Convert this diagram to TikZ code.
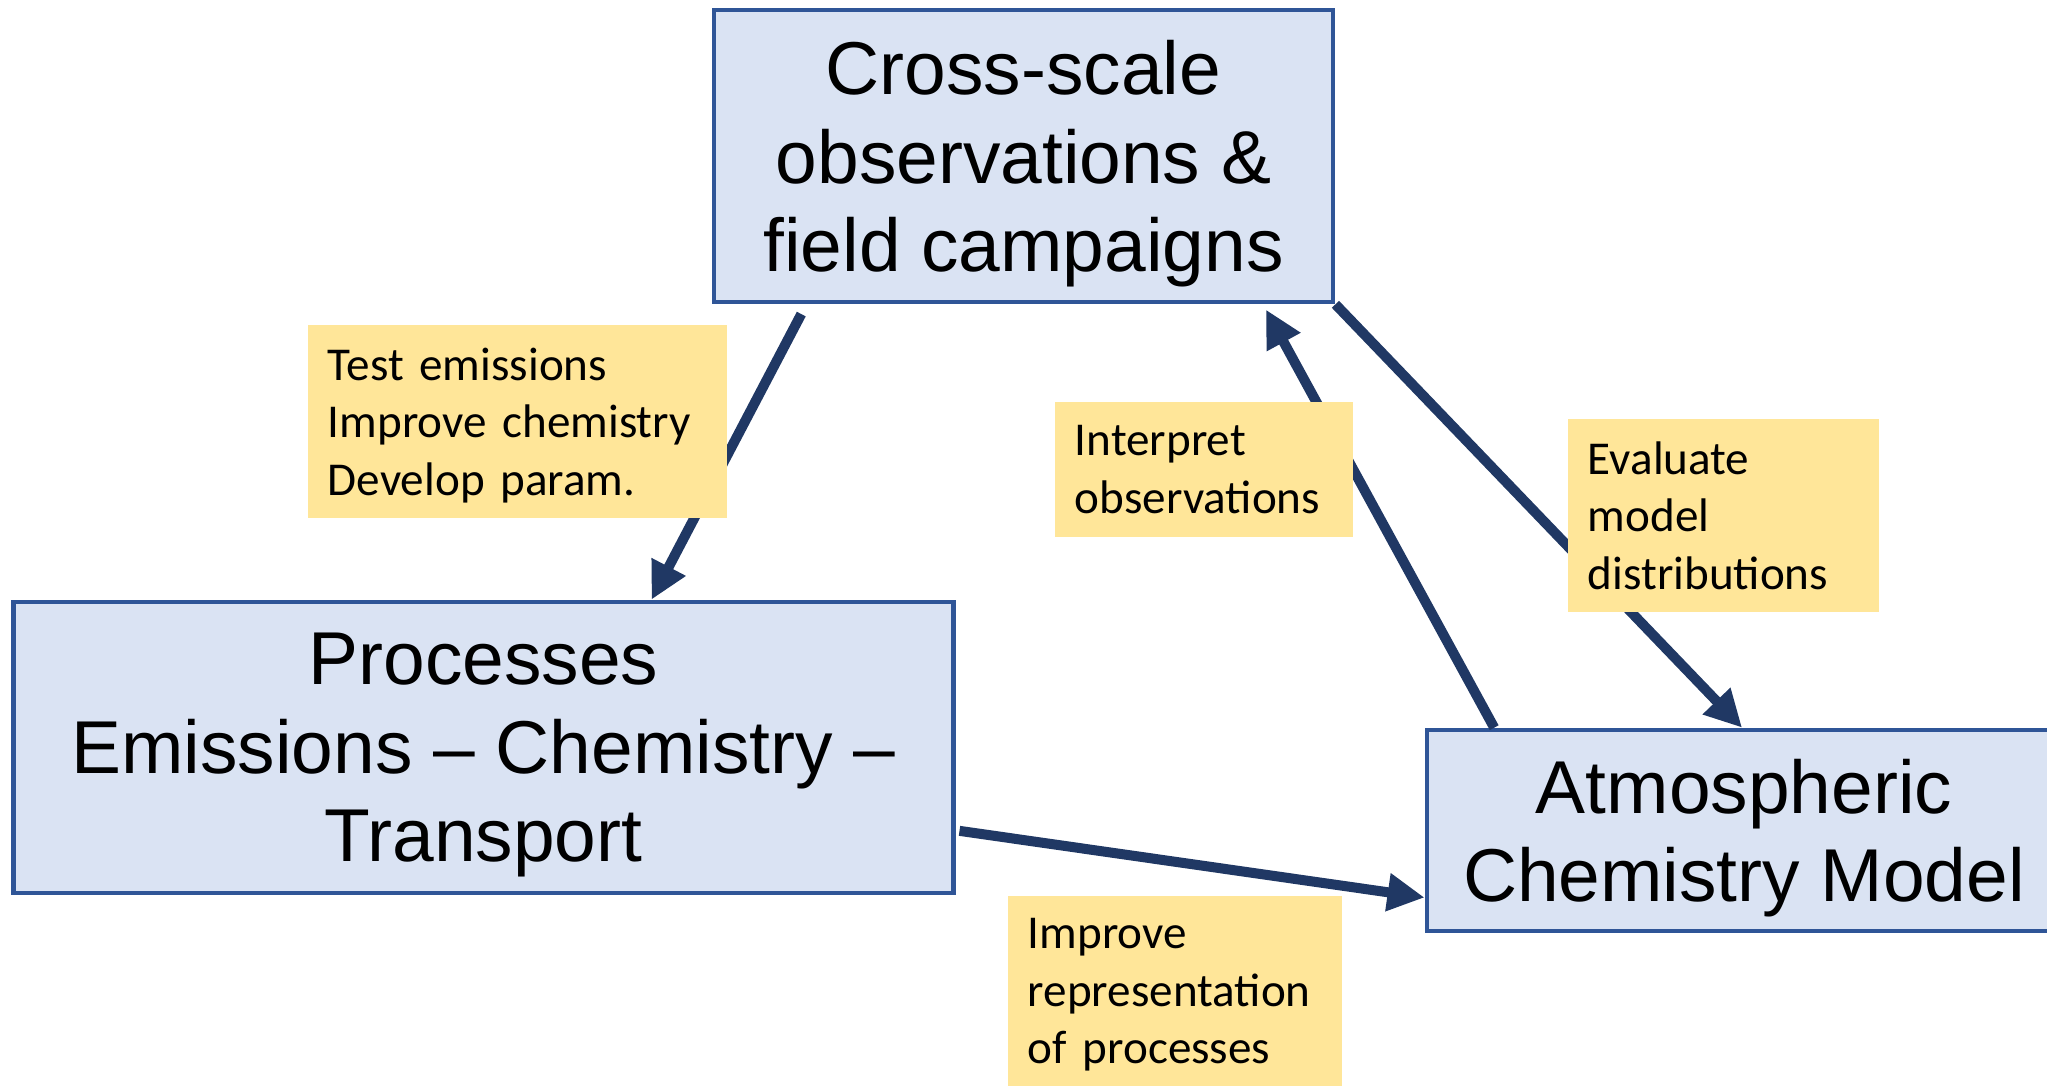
\documentclass[tikz,border=0pt]{standalone}
\usepackage{fontspec}
\setmainfont{Liberation Sans}
\newfontfamily\notefont{Carlito}
\usetikzlibrary{arrows.meta,calc}

\definecolor{boxfill}{HTML}{DAE3F3}
\definecolor{boxline}{HTML}{2F5597}
\definecolor{arrowcol}{HTML}{203864}
\definecolor{notefill}{HTML}{FFE699}

\tikzset{
    mainbox/.style={draw=boxline, fill=boxfill, line width=0.045cm, align=center,
        inner sep=0pt, text depth=0pt, font=\fontsize{21.3}{25.2}\selectfont},
    notebox/.style={fill=notefill, align=left, inner xsep=0.2cm, inner ysep=0pt,
        text depth=#1, font=\notefont\fontsize{13.4}{16.4}\selectfont},
    notebox/.default=32.8pt,
    flow/.style={draw=arrowcol, line width=0.1cm, -{Triangle[length=0.37cm,width=0.36cm]}}
}

\begin{document}
\begin{tikzpicture}[x=0.01cm,y=-0.01cm]
            \useasboundingbox (0,0) rectangle (2047,1086);

            \node[mainbox, minimum width=6.19cm, minimum height=2.92cm] (obs) at (1023.5,156)
                {Cross-scale\\observations \&\\field campaigns};
            \node[mainbox, minimum width=9.39cm, minimum height=2.91cm] (proc) at (483.5,747.5)
                {Processes\\Emissions -- Chemistry --\\Transport};
            \node[mainbox, minimum width=6.34cm, minimum height=2.01cm] (model) at (1744,830.5)
                {Atmospheric\\Chemistry Model};

            %arrows
            \draw[flow, shorten <=0.11cm] ($(obs.south west)!0.152!(obs.south east)$) -- ($(proc.north west)!0.678!(proc.north east)$);
            \draw[flow, shorten >=0.06cm] ($(model.north west)!0.109!(model.north east)$) -- ($(obs.south west)!0.884!(obs.south east)$);
            \draw[flow] (obs.south east) -- ($(model.north west)!0.497!(model.north east)$);
            \draw[flow, shorten <=0.04cm] ($(proc.north east)!0.78!(proc.south east)$) -- ($(model.north west)!0.826!(model.south west)$);

            %labels
            \node[notebox, minimum width=4.19cm, minimum height=1.93cm, text width=3.79cm] (test) at (517.5,421.5)
                {Test emissions\\Improve chemistry\\Develop param.};
            \node[notebox=16.4pt, minimum width=2.98cm, minimum height=1.35cm, text width=2.58cm] (interp) at (1204,469.5)
                {Interpret\\observations};
            \node[notebox, minimum width=3.11cm, minimum height=1.93cm, text width=2.71cm] (eval) at (1723.5,515.5)
                {Evaluate\\model\\distributions};
            \node[notebox, minimum width=3.34cm, minimum height=1.90cm, text width=2.94cm] (repr) at (1175,991)
                {Improve\\representation\\of processes};
\end{tikzpicture}
\end{document}
